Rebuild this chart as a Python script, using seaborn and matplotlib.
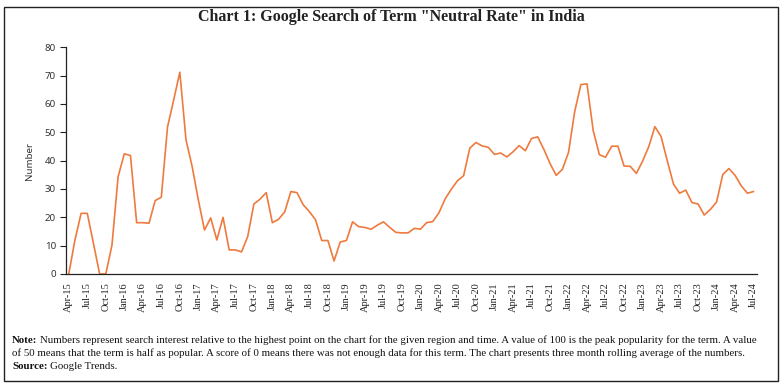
import numpy as np
import pandas as pd
import matplotlib
matplotlib.use("Agg")
import matplotlib.pyplot as plt
from matplotlib.patches import Rectangle
import seaborn as sns

# monthly 3-month rolling average of Google Trends index, Apr-15 .. Jul-24
months = pd.date_range("2015-04-01", periods=112, freq="MS").strftime("%b-%y").tolist()
interest = [
    0, 12, 21.4, 21.4, 10.8, 0, 0, 10.2, 34.4, 42.4, 41.8, 18.1,
    18.1, 17.9, 25.9, 27.1, 51.8, 61.4, 71.2, 47.3, 37.9, 26.1, 15.5, 19.8,
    12, 20, 8.5, 8.5, 7.8, 13.2, 24.7, 26.4, 28.7, 18.1, 19.3, 21.9,
    29.1, 28.7, 24.4, 22, 19.1, 11.8, 11.8, 4.6, 11.3, 11.8, 18.4, 16.7,
    16.4, 15.8, 17.2, 18.4, 16.5, 14.7, 14.5, 14.5, 16.1, 15.8, 18.1, 18.5,
    21.6, 26.5, 29.9, 32.9, 34.7, 44.4, 46.4, 45.2, 44.7, 42.2, 42.7, 41.3,
    43.1, 45.3, 43.5, 47.8, 48.4, 44, 39, 34.8, 36.9, 42.9, 57.3, 66.8,
    67.1, 50.6, 42.1, 41.2, 45.1, 45.1, 38.1, 38, 35.5, 39.8, 44.9, 52,
    48.5, 40, 31.8, 28.5, 29.6, 25.2, 24.7, 20.8, 22.8, 25.4, 35.1, 37.2,
    34.8, 31.1, 28.5, 29.1,
]
y_ticks = [0, 10, 20, 30, 40, 50, 60, 70, 80]

title = 'Chart 1: Google Search of Term "Neutral Rate" in India'
note_1 = ("Numbers represent search interest relative to the highest point on the chart "
          "for the given region and time. A value of 100 is the peak popularity for the term. A value")
note_2 = ("of 50 means that the term is half as popular. A score of 0 means there was not enough "
          "data for this term. The chart presents three month rolling average of the numbers.")
source = "Google Trends."

df = pd.DataFrame({"pos": np.arange(len(months)), "month": months, "value": interest})

sns.set_style("white")
serif = ["Liberation Serif", "DejaVu Serif"]
sans = ["Noto Sans", "DejaVu Sans"]

fig = plt.figure(figsize=(7.83, 3.86), dpi=100)
ax = fig.add_axes([0.0839, 0.2902, 0.8825, 0.5873])

sns.lineplot(data=df, x="pos", y="value", ax=ax, color="#EE7A3E", linewidth=1.2)

ax.set_xlim(-0.5, len(months) - 0.5)
ax.set_ylim(0, 80)
ax.set_yticks(y_ticks)
ax.set_yticklabels([str(v) for v in y_ticks], fontfamily=sans, fontsize=7, color="#333333")

# labels every 3 months, tick marks between categories
label_pos = df["pos"][::3]
ax.set_xticks(label_pos)
ax.set_xticklabels(df["month"][::3], rotation=90, fontfamily=serif, fontsize=7.5, color="#222222")
ax.set_xticks(np.arange(-0.5, len(months) - 0.5, 3), minor=True)
ax.tick_params(axis="x", which="major", length=0, pad=6)
ax.tick_params(axis="x", which="minor", length=4, width=0.8, color="#222222", direction="out")
ax.tick_params(axis="y", length=4, width=0.8, color="#222222", direction="out", left=True, pad=3)

ax.set_xlabel("")
ax.set_ylabel("Number", fontfamily=sans, fontsize=7, color="#333333", labelpad=8)
for side in ["top", "right"]:
    ax.spines[side].set_visible(False)
for side in ["left", "bottom"]:
    ax.spines[side].set_color("#222222")
    ax.spines[side].set_linewidth(0.9)

fig.text(0.5, 0.957, title, ha="center", va="center", fontfamily=serif,
         fontweight="bold", fontsize=11.5, color="#222222")

# note block with bold lead-ins
fs = 7.8
t1 = fig.text(0.0155, 0.106, "Note:", fontfamily=serif, fontweight="bold", fontsize=fs,
              color="#111111", va="bottom")
ax.annotate(note_1, xy=(1, 0), xycoords=t1, xytext=(2, 0), textcoords="offset points",
            va="bottom", fontfamily=serif, fontsize=fs, color="#111111", annotation_clip=False)
fig.text(0.0155, 0.072, note_2, fontfamily=serif, fontsize=fs, color="#111111", va="bottom")
t3 = fig.text(0.0155, 0.038, "Source:", fontfamily=serif, fontweight="bold", fontsize=fs,
              color="#111111", va="bottom")
ax.annotate(source, xy=(1, 0), xycoords=t3, xytext=(2, 0), textcoords="offset points",
            va="bottom", fontfamily=serif, fontsize=fs, color="#111111", annotation_clip=False)

fig.add_artist(Rectangle((0.005, 0.013), 0.9886, 0.969, transform=fig.transFigure,
                         fill=False, edgecolor="#222222", linewidth=1.0))

fig.savefig("out.png", dpi=100)
